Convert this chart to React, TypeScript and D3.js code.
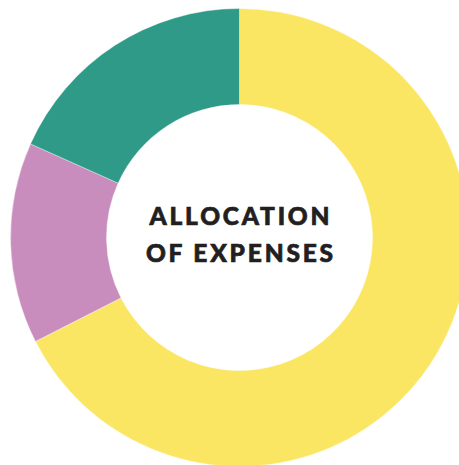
import React from "react";
import * as d3 from "d3";

const categories = ["A", "B", "C"];
const values = [67.5, 14.2, 18.3];
const colors = ["#FBE664", "#C98DBD", "#2E9A87"];
const titleLines = ["ALLOCATION", "OF EXPENSES"];

export default function App() {
  const W = 459, H = 465;
  const cx = 239.5, cy = 237.5;
  const outer = 229, inner = 133;
  const ls = 2.8;
  const pie = d3.pie<number>().sort(null).value((d) => d)(values);
  const arc = d3.arc<d3.PieArcDatum<number>>().innerRadius(inner).outerRadius(outer);
  return (
    <svg width={W} height={H} style={{ position: "absolute", left: 0, top: 0 }}>
      <g transform={`translate(${cx},${cy})`}>
        {pie.map((p, i) => (
          <path key={categories[i]} d={arc(p) || ""} fill={colors[i]} stroke="#fff" strokeWidth={0.4} />
        ))}
        {titleLines.map((t, i) => (
          <text key={t} x={ls / 2} y={-13 + i * 37} textAnchor="middle" fontFamily="Lato" fontWeight={900} fontSize={24.5} letterSpacing={ls} fill="#231F20" stroke="#231F20" strokeWidth={0.7}>
            {t}
          </text>
        ))}
      </g>
    </svg>
  );
}
